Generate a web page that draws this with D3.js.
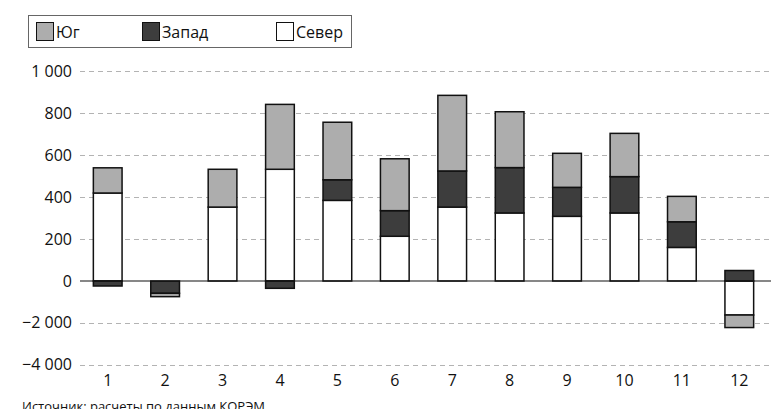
<!DOCTYPE html>
<html lang="ru">
<head>
    <meta charset="UTF-8">
    <title>Stacked bars</title>
    <script src="https://d3js.org/d3.v7.min.js"></script>
    <style>
        body { margin: 0; background: #fff; font-family: "Open Sans", Arial, sans-serif; }
        .grid line { stroke: #b3b3b3; stroke-dasharray: 5,4; }
    </style>
</head>
<body>
<div id="chart"></div>
<script>
    // Data
    const months = ["1", "2", "3", "4", "5", "6", "7", "8", "9", "10", "11", "12"];
    const sever = [419, 0, 352, 532, 384, 213, 352, 324, 308, 324, 160, -1630];
    const zapad = [-240, -590, 0, -350, 98, 122, 172, 216, 138, 173, 122, 50];
    const yug = [120, -160, 180, 309, 274, 247, 360, 266, 162, 206, 121, -600];
    const yTicks = [-4000, -2000, 0, 200, 400, 600, 800, 1000];
    const seriesNames = ["Север", "Запад", "Юг"];
    const legendOrder = ["Юг", "Запад", "Север"];
    const colors = {"Север": "#ffffff", "Запад": "#3d3d3d", "Юг": "#adadad"};
    const sourceText = "Источник: расчеты по данным КОРЭМ";

    const width = 780, height = 409;
    const margin = {left: 79, right: 12};

    const svg = d3.select("#chart").append("svg")
        .attr("width", width)
        .attr("height", height);

    const rows = months.map((m, i) => ({month: m, "Север": sever[i], "Запад": zapad[i], "Юг": yug[i]}));

    const stacked = d3.stack()
        .keys(seriesNames)
        .offset(d3.stackOffsetDiverging)(rows);

    const x = d3.scaleBand()
        .domain(months)
        .range([margin.left, width - margin.right])
        .paddingInner(0.5)
        .paddingOuter(0.25);

    // broken axis: positive side 200 per step, negative 2000 per step
    const y = d3.scaleLinear()
        .domain([-4000, 0, 1000])
        .range([364.5, 281, 71]);

    const fmtNum = v => {
        const a = Math.abs(v);
        const s = a >= 1000 ? d3.format(",")(a).replace(/,/g, " ") : String(a);
        return (v < 0 ? "\u2212" : "") + s;
    };

    // grid
    const grid = svg.append("g").attr("class", "grid");
    grid.selectAll("line")
        .data(yTicks.filter(t => t !== 0))
        .join("line")
        .attr("x1", 80)
        .attr("x2", width - 10)
        .attr("y1", d => Math.round(y(d)) + 0.5)
        .attr("y2", d => Math.round(y(d)) + 0.5);

    // y labels
    svg.append("g")
        .selectAll("text")
        .data(yTicks)
        .join("text")
        .attr("x", 72)
        .attr("y", d => y(d) + 5.5)
        .attr("text-anchor", "end")
        .attr("font-size", 16)
        .attr("fill", "#111")
        .text(d => fmtNum(d));

    // bars
    svg.append("g")
        .selectAll("g")
        .data(stacked)
        .join("g")
        .attr("fill", d => colors[d.key])
        .selectAll("rect")
        .data(d => d.filter(p => p[0] !== p[1]))
        .join("rect")
        .attr("x", d => x(d.data.month))
        .attr("width", x.bandwidth())
        .attr("y", d => y(Math.max(d[0], d[1])))
        .attr("height", d => Math.abs(y(d[0]) - y(d[1])))
        .attr("stroke", "#111")
        .attr("stroke-width", 1.5);

    // zero line
    svg.append("line")
        .attr("x1", 80)
        .attr("x2", width - 9)
        .attr("y1", y(0))
        .attr("y2", y(0))
        .attr("stroke", "#111")
        .attr("stroke-width", 1.2);

    // x labels
    svg.append("g")
        .selectAll("text")
        .data(months)
        .join("text")
        .attr("x", d => x(d) + x.bandwidth() / 2)
        .attr("y", 386)
        .attr("text-anchor", "middle")
        .attr("font-size", 16)
        .attr("fill", "#111")
        .text(d => d);

    // legend
    const legend = svg.append("g");
    legend.append("rect")
        .attr("x", 28.5).attr("y", 15.5)
        .attr("width", 323).attr("height", 32)
        .attr("fill", "#fff")
        .attr("stroke", "#666");

    const legendX = [36, 142, 276];
    legendOrder.forEach((name, i) => {
        legend.append("rect")
            .attr("x", legendX[i] + 0.5).attr("y", 22.5)
            .attr("width", 17).attr("height", 18)
            .attr("fill", colors[name])
            .attr("stroke", "#111")
            .attr("stroke-width", 1);
        legend.append("text")
            .attr("x", legendX[i] + 20)
            .attr("y", 37.5)
            .attr("font-size", 16)
            .attr("fill", "#111")
            .text(name);
    });

    // source (cut by the bottom edge, as in the original)
    svg.append("text")
        .attr("x", 22)
        .attr("y", 411)
        .attr("font-size", 13)
        .attr("fill", "#111")
        .text(sourceText);
</script>
</body>
</html>
